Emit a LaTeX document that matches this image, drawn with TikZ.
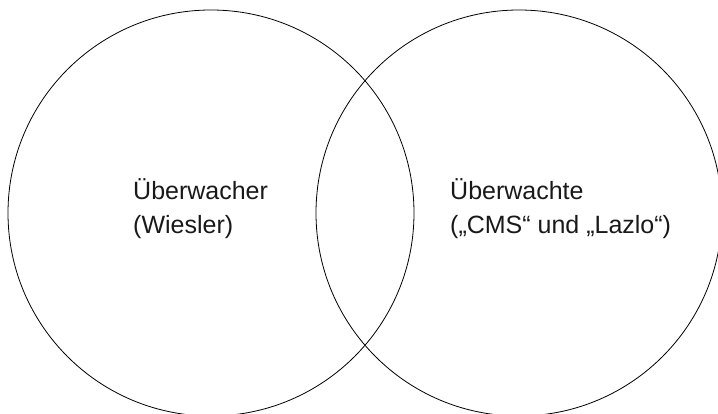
\documentclass[tikz,border=0pt]{standalone}
\usepackage{fontspec}
\setmainfont{Liberation Sans}
\begin{document}
\begin{tikzpicture}[x=1pt,y=1pt,
  setcircle/.style={draw=black, line width=0.8pt, circle, minimum size=406pt, inner sep=0pt},
  lbl/.style={anchor=base west, align=left, inner sep=0pt, font=\fontsize{25}{34}\selectfont, text=black!90}]
\useasboundingbox (0,0) rectangle (718,414);
\clip (0,0) rectangle (718,414);
\node[setcircle] (left) at (211,201) {};
\node[setcircle] (right) at (519,201) {};
\node[lbl] (ltext) at (133,180) {Überwacher\\(Wiesler)};
\node[lbl] (rtext) at (450,180) {Überwachte\\(„CMS“ und „Lazlo“)};
\end{tikzpicture}
\end{document}
